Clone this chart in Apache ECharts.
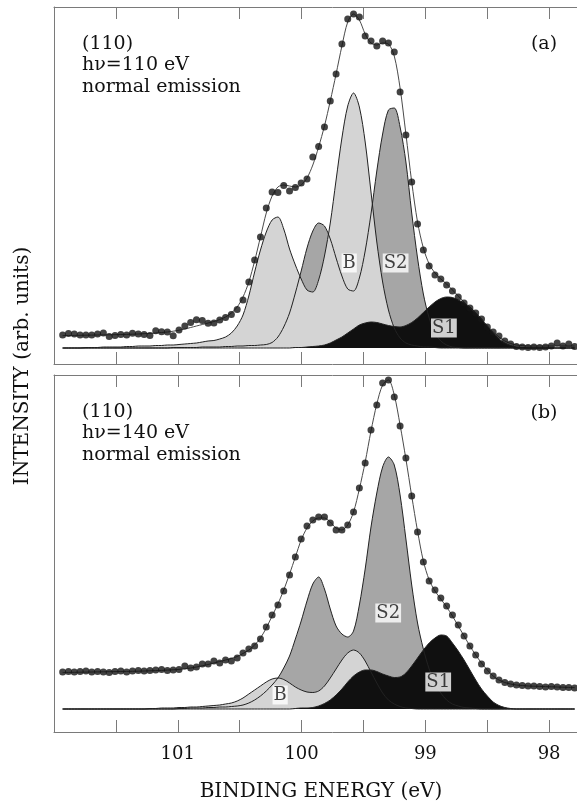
<!DOCTYPE html>
<html><head><meta charset="utf-8">
<script src="https://cdn.jsdelivr.net/npm/echarts@6/dist/echarts.min.js"></script>
<style>html,body{margin:0;padding:0;background:#fff;overflow:hidden}#c{width:620px;height:810px}</style>
</head><body><div id="c"></div>
<script>
// Binding energies (eV) of the sampled points
const energy = [101.930,101.883,101.836,101.789,101.742,101.695,101.648,101.601,101.554,101.507,
101.460,101.413,101.366,101.319,101.272,101.225,101.178,101.131,101.084,101.037,
100.990,100.943,100.896,100.849,100.802,100.755,100.708,100.661,100.614,100.567,
100.520,100.473,100.426,100.379,100.332,100.285,100.238,100.191,100.144,100.097,
100.050,100.003,99.956,99.909,99.862,99.815,99.768,99.721,99.674,99.627,
99.580,99.533,99.486,99.439,99.392,99.345,99.298,99.251,99.204,99.157,
99.110,99.063,99.016,98.969,98.922,98.875,98.828,98.781,98.734,98.687,
98.640,98.593,98.546,98.499,98.452,98.405,98.358,98.311,98.264,98.217,
98.170,98.123,98.076,98.029,97.982,97.935,97.888,97.841,97.794];

// Panel (a): hv = 110 eV
const dotsA = [13,14.5,14,13,13,13,14,15,11.5,12.5,
13.5,13,14.7,14,13.5,12.5,17.3,16.3,16,12.3,
18,22,25.5,28.3,27.5,24.7,25,28,30.5,33.5,
38.5,48,66,88,111,140,156,155.5,162.5,157,
160.5,165,169,191,201.5,221,247,274,304,329,
334,331,312,307,302,307,305,296,256,213,
166,124,98,82,73,69,63,57,51,45,
40,35,29,21,16,12,7,4,1.5,1,
0.5,1,0.5,1,2,5,2,4,1.5];
const fitA = [12.5,12.5,12.6,12.7,12.8,12.9,13,13.1,13.2,13.3,
13.5,13.6,13.8,14,14.3,14.6,15,15.5,16,16.8,
17.8,19,20.5,22,23.5,25,26.5,28.5,31,35,
41,51,66,87,111,135,152,161,163,162,
161,163,170,183,201,222,247,274,302,326,
334,328,314,305,303,305,304,292,260,214,
166,126,100,84,75,69,64,58,52,46,
40,35,29,22,16,11,7,4.5,3,2.5,
2,2,2,2,2,2,2,2,2];
const bulkA = [0,0,0,0,0.5,0.5,0.5,1,1,1,
1,1.5,1.5,2,2,2,2.5,2.5,3,3,
3.5,4,4.5,5,6,7,7.5,9,11,15,
22,33,52,76,98,116,128,131,119,99,
83,69,58,56,68,92,125,168,210,242,
255,241,206,156,106,66,38,20,10,5,
3,2,1,1,0.5,0,0,0,0,0,
0,0,0,0,0,0,0,0,0,0,
0,0,0,0,0,0,0,0,0];
const s2A = [0,0,0,0,0,0,0,0,0,0,
0,0,0,0,0,0,0,0,0,0.5,
0.5,0.5,0.5,0.5,1,1,1,1,1.5,1.5,
2,2,2.5,2.5,3,3.5,5.5,11,21,35,
55,77,100,117,125,122,109,90,72,59,
57,70,97,134,177,214,238,240,221,186,
135,90,54,30,15,7,3,1,0.5,0,
0,0,0,0,0,0,0,0,0,0,
0,0,0,0,0,0,0,0,0];
const s1A = [0,0,0,0,0,0,0,0,0,0,
0,0,0,0,0,0,0,0,0,0,
0,0,0,0,0,0,0,0,0,0,
0,0,0,0,0,0,0,0,0,0,
0.5,0.5,1,1.5,2,3,5,8,11,15,
19,23,25,26,25.5,24,22.5,21.5,21,22.5,
25.5,30,35.5,41,46,49.5,51,50.5,48,45,
41,35.5,29,22,15,9,5,2.5,1,0.5,
0,0,0,0,0,0,0,0,0];

// Panel (b): hv = 140 eV
const dotsB = [37,37.5,37,37.5,38,37,37.5,37,36.5,37.5,
38,37,38,38.5,38,38.5,39,39.5,38.5,39,
39.5,43,41,42,45,45,48,46,49,48,
51,56,60,63,70,82,94,104,118,134,
152,170,183,189,192,192,186,179,179,184,
197,221,246,279,304,326,329,312,283,251,
213,177,147,128,119,111,103,94,84,73,
63,54,45,38,33,29,26.5,25,24,23.5,
23,23,22.5,22,22.5,22,21.5,21.5,21];
const fitB = [36.5,36.6,36.7,36.8,36.9,37,37.1,37.2,37.3,37.4,
37.5,37.6,37.7,37.8,38,38.2,38.4,38.6,38.9,39.2,
39.6,40.2,41,42,43.2,44.5,46,47.5,49,50.5,
52.5,55.5,59,64,71,81,93,105,119,135,
152,169,181,188,191,191,187,181,179,184,
197,220,247,278,305,324,329,314,284,250,
213,178,148,129,118,110,102,93,83,73,
63,54,46,39,33,29,26.5,25,24,23.5,
23,22.8,22.6,22.4,22.2,22,21.8,21.6,21.4];
const bulkB = [0,0,0,0,0,0,0,0,0,0,
0,0,0,0,0,0.5,0.5,1,1,1,
1.5,1.5,2,2,2.5,3,3.5,4,5,6,
8,11,15,19,23,27,30,31,29.5,26,
22,19,17,16.5,18,23,31,40,49,56,
59,56,48,37,26,16,9,5,2.5,1,
0.5,0,0,0,0,0,0,0,0,0,
0,0,0,0,0,0,0,0,0,0,
0,0,0,0,0,0,0,0,0];
const s2B = [0,0,0,0,0,0,0,0,0,0,
0,0,0,0,0,0,0,0,0,0,
0.5,0.5,1,1,1,1.5,1.5,2,2,2.5,
3,4,6,9,13,18,24,31,41,53,
70,88,108,125,132,120,100,83,75,72,
78,104,140,182,216,242,252,244,214,170,
124,86,60,40,26,16,9,5,3,1.5,
1,0.5,0,0,0,0,0,0,0,0,
0,0,0,0,0,0,0,0,0];
const s1B = [0,0,0,0,0,0,0,0,0,0,
0,0,0,0,0,0,0,0,0,0,
0,0,0,0,0,0,0,0,0,0,
0,0,0,0,0,0,0,0,0,0,
0.5,1,1,1.5,3,5.5,9,14,20,27,
33,37,39,39,37.5,35,33,31.5,32,36,
43,51,59,66,71,74,73,66,58,49,
39,29,20,13,7,3.5,1.5,0.5,0,0,
0,0,0,0,0,0,0,0,0];

// Component labels: [text, energy, intensity]
const labelsA = [['B',99.615,85],['S2',99.24,85],['S1',98.85,20]];
const labelsB = [['S2',99.30,96],['S1',98.896,27],['B',100.173,14]];
const tickValues = [98,99,100,101];

const FONT = 'DejaVu Serif';
const AX = '#7a7a7a';
function pairs(arr){ return energy.map((e,i)=>[e, arr[i]]); }

function xAx(gridIndex, position, showLabels){
  return {type:'value', gridIndex, position, inverse:true, min:97.5, max:102, interval:0.5,
    axisLine:{show:true, onZero:false, lineStyle:{color:AX, width:1}},
    axisTick:{show:true, inside:true, length:12, lineStyle:{color:AX, width:1}},
    axisLabel:{show:showLabels, margin:13, color:'#111', fontFamily:FONT, fontSize:18,
      showMinLabel:false, showMaxLabel:false,
      formatter:v=> tickValues.includes(v) ? String(v) : ''},
    splitLine:{show:false}};
}
function yAx(gridIndex, min, max){
  return {type:'value', gridIndex, min, max,
    axisLine:{show:true, onZero:false, lineStyle:{color:AX, width:1}},
    axisTick:{show:false}, axisLabel:{show:false}, splitLine:{show:false}};
}
function comp(data, fill, xi, yi){
  return {type:'line', xAxisIndex:xi, yAxisIndex:yi, data:pairs(data), smooth:0.3,
    showSymbol:false, symbol:'none', lineStyle:{color:'#222', width:1},
    areaStyle:{color:fill, opacity:1}, z:2, silent:true};
}
function fitLine(data, xi, yi){
  return {type:'line', xAxisIndex:xi, yAxisIndex:yi, data:pairs(data), smooth:0.3,
    showSymbol:false, symbol:'none', lineStyle:{color:'#4a4a4a', width:1}, z:4, silent:true};
}
function dots(data, xi, yi){
  return {type:'scatter', xAxisIndex:xi, yAxisIndex:yi, data:pairs(data), symbolSize:7,
    itemStyle:{color:'#141414'}, z:5, silent:true};
}
function labels(list, xi, yi){
  return {type:'scatter', xAxisIndex:xi, yAxisIndex:yi, symbolSize:1,
    itemStyle:{color:'rgba(0,0,0,0)'}, z:6, silent:true,
    data:list.map(l=>({name:l[0], value:[l[1], l[2]]})),
    label:{show:true, position:'inside', formatter:p=>p.name, fontFamily:FONT, fontSize:18,
      color:'#111', backgroundColor:'#fff', padding:[1,1,0,1]}};
}
function txt(x, y, s, align){
  return {type:'text', x, y, style:{text:s, font:'19px "DejaVu Serif"', fill:'#111',
    textAlign:align||'left', textVerticalAlign:'middle'}};
}

const chart = echarts.init(document.getElementById('c'), null, {renderer:'canvas'});
chart.setOption({
  animation:false,
  backgroundColor:'#fff',
  grid:[{left:54, top:7, width:557, height:357},
        {left:54, top:375, width:557, height:357}],
  xAxis:[xAx(0,'bottom',false), xAx(0,'top',false), xAx(1,'bottom',true), xAx(1,'top',false)],
  yAxis:[yAx(0,-16,341), yAx(1,-23,334)],
  series:[
    comp(s2A,'#a6a6a6',0,0), comp(bulkA,'#d4d4d4',0,0), comp(s1A,'#101010',0,0),
    fitLine(fitA,0,0), dots(dotsA,0,0), labels(labelsA,0,0),
    comp(s2B,'#a6a6a6',2,1), comp(bulkB,'#d4d4d4',2,1), comp(s1B,'#101010',2,1),
    fitLine(fitB,2,1), dots(dotsB,2,1), labels(labelsB,2,1)
  ],
  graphic:[
    txt(82,44,'(110)'), txt(82,65.5,'hν=110 eV'), txt(82,87,'normal emission'), txt(544,44,'(a)','center'),
    txt(82,412,'(110)'), txt(82,433.5,'hν=140 eV'), txt(82,455,'normal emission'), txt(544,413,'(b)','center'),
    {type:'text', x:23, y:366, rotation:Math.PI/2,
      style:{text:'INTENSITY (arb. units)', font:'20px "DejaVu Serif"', fill:'#111',
        textAlign:'center', textVerticalAlign:'middle'}},
    {type:'text', x:321, y:792,
      style:{text:'BINDING ENERGY (eV)', font:'20px "DejaVu Serif"', fill:'#111',
        textAlign:'center', textVerticalAlign:'middle'}}
  ]
});
</script></body></html>
